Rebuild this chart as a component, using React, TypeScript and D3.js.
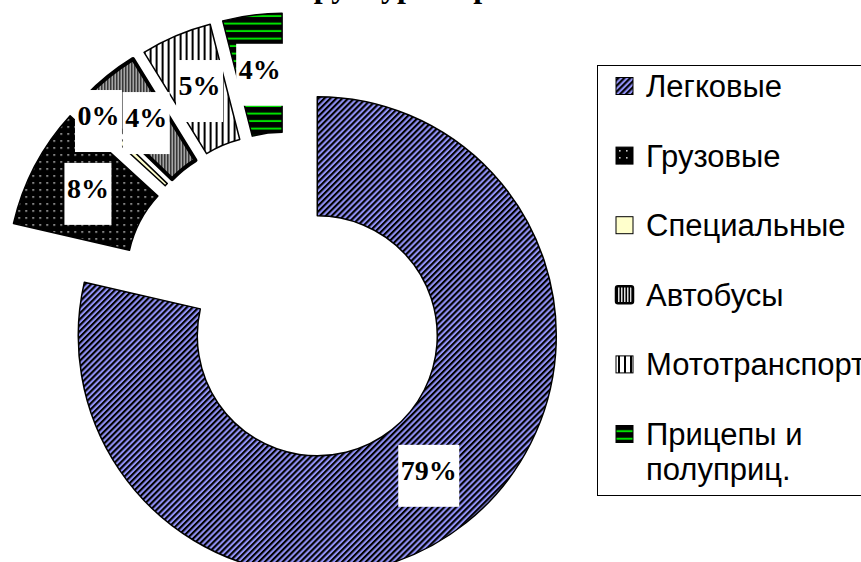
import React from "react";
import * as d3 from "d3";

// chart data
const title = "Структура парка";
const categories = ["Легковые", "Грузовые", "Специальные", "Автобусы", "Мототранспорт", "Прицепы и полуприц."];
const shares = [78.6, 8.2, 0.4, 4.0, 4.8, 4.0];
const legendLines = [["Легковые"], ["Грузовые"], ["Специальные"], ["Автобусы"], ["Мототранспорт"], ["Прицепы и", "полуприц."]];

const W = 861;
const H = 562;
const cx = 288;
const cy = 299;
const outerR = 239;
const innerR = 120;
const explode = 47;
const labelR = 179;
const labelFont = 28;

const fills = ["url(#p-leg)", "url(#p-gruz)", "#ffffcc", "url(#p-bus)", "url(#p-moto)", "url(#p-pric)"];
const strokes = [1.5, 1.5, 1.5, 4, 1.5, 1.5];

const App = () => {
	const pie = d3.pie<number>().sort(null).value((d) => d)(shares);
	const arc = d3.arc<d3.PieArcDatum<number>>().innerRadius(innerR).outerRadius(outerR);
	const pct = d3.format(".0%");

	const slices = pie.map((p, i) => {
		const mid = (p.startAngle + p.endAngle) / 2;
		const ux = Math.sin(mid);
		const uy = -Math.cos(mid);
		const ox = cx + explode * ux;
		const oy = cy + explode * uy;
		const text = pct(shares[i] / 100);
		const w = labelFont * (0.5 * (text.length - 1) + 1) + 5;
		return { p, i, ux, uy, ox, oy, text, w, h: 62, lx: ox + labelR * ux, ly: oy + labelR * uy };
	});

	// push small labels outward when they collide (like Excel does)
	const overlap = (a, b) =>
		a.lx - a.w / 2 < b.lx + b.w / 2 &&
		a.lx + a.w / 2 > b.lx - b.w / 2 &&
		a.ly - a.h / 2 < b.ly + b.h / 2 &&
		a.ly + a.h / 2 > b.ly - b.h / 2;
	const order = [...slices].sort((a, b) => shares[a.i] - shares[b.i]);
	order.forEach((s) => {
		let n = 0;
		while (n < 300 && slices.some((o) => o !== s && overlap(s, o))) {
			s.lx += s.ux;
			s.ly += s.uy;
			n++;
		}
	});

	const legendY = (k) => 97 + k * 69.6;

	return (
		<svg width={W} height={H} style={{ position: "absolute", left: 0, top: 0, background: "#fff" }}>
			<defs>
				<pattern id="p-leg" width="4.2" height="4.2" patternUnits="userSpaceOnUse" patternTransform="rotate(45)">
					<rect width="4.2" height="4.2" fill="#9090f4" />
					<rect width="2.1" height="4.2" fill="#000" />
				</pattern>
				<pattern id="p-gruz" width="7" height="7" patternUnits="userSpaceOnUse">
					<rect width="7" height="7" fill="#000" />
					<rect x="3" y="3" width="1.6" height="1.6" fill="#c8c8c8" />
				</pattern>
				<pattern id="p-bus" width="3" height="3" patternUnits="userSpaceOnUse">
					<rect width="3" height="3" fill="#000" />
					<rect width="1.5" height="3" fill="#dcdcdc" />
				</pattern>
				<pattern id="p-moto" width="6" height="6" patternUnits="userSpaceOnUse">
					<rect width="6" height="6" fill="#fff" />
					<rect width="2" height="6" fill="#000" />
				</pattern>
				<pattern id="p-pric" width="10" height="7.5" patternUnits="userSpaceOnUse">
					<rect width="10" height="7.5" fill="#000" />
					<rect y="2.7" width="10" height="2" fill="#00e000" />
				</pattern>
			</defs>

			{/* title, mostly clipped at the top edge as in the source */}
			<text x={400} y={-3} textAnchor="middle" fontFamily="'Liberation Serif', 'Times New Roman', serif" fontWeight="bold" fontSize={32}>
				{title}
			</text>

			{/* slices */}
			{slices.map((s) => (
				<path
					key={categories[s.i]}
					d={arc(s.p)}
					transform={`translate(${s.ox},${s.oy})`}
					fill={fills[s.i]}
					stroke="#000"
					strokeWidth={strokes[s.i]}
					strokeLinejoin="round"
				/>
			))}

			{/* data labels */}
			{slices.map((s) => (
				<g key={"lbl" + s.i}>
					<rect x={s.lx - s.w / 2} y={s.ly - s.h / 2} width={s.w} height={s.h} fill="#fff" />
					<text
						x={s.lx}
						y={s.ly + 4}
						textAnchor="middle"
						fontFamily="'Liberation Serif', 'Times New Roman', serif"
						fontWeight="bold"
						fontSize={labelFont}
					>
						{s.text}
					</text>
				</g>
			))}

			{/* legend */}
			<rect x={597.5} y={65.5} width={320} height={430} fill="#fff" stroke="#000" strokeWidth={1} />
			{legendLines.map((lines, k) => (
				<g key={"leg" + k}>
					<rect
						x={616}
						y={legendY(k) - 11 - 8.5}
						width={17}
						height={17}
						fill={fills[k]}
						stroke="#000"
						strokeWidth={k === 3 ? 2.5 : 1}
						rx={k === 3 ? 2 : 0}
					/>
					<text x={646} y={legendY(k)} fontFamily="'Liberation Sans', Arial, sans-serif" fontSize={31}>
						{lines.map((t, j) => (
							<tspan key={j} x={646} dy={j === 0 ? 0 : 35}>
								{t}
							</tspan>
						))}
					</text>
				</g>
			))}
		</svg>
	);
};

export default App;
